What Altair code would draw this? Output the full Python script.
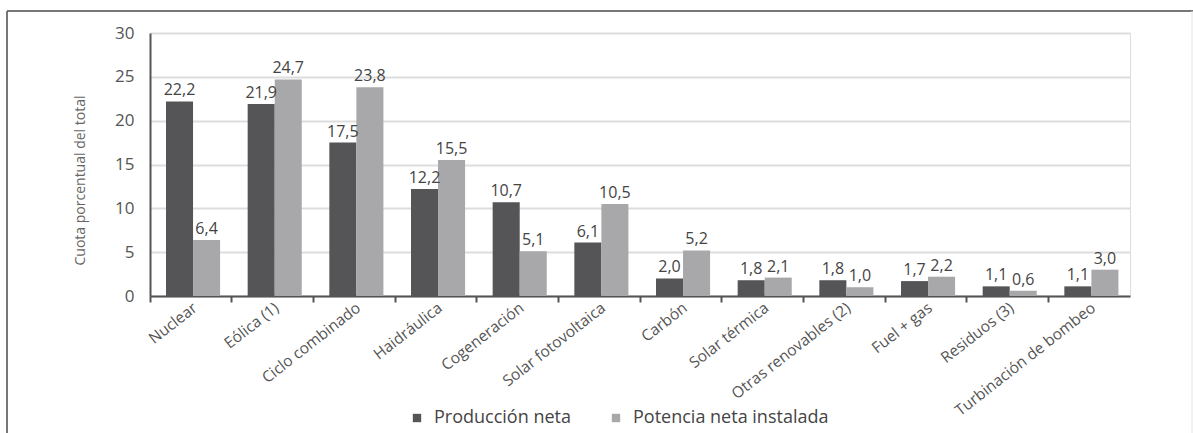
import altair as alt
import pandas as pd

categorias = ["Nuclear", "Eólica (1)", "Ciclo combinado", "Haidráulica", "Cogeneración",
              "Solar fotovoltaica", "Carbón", "Solar térmica", "Otras renovables (2)",
              "Fuel + gas", "Residuos (3)", "Turbinación de bombeo"]
produccion = [22.2, 21.9, 17.5, 12.2, 10.7, 6.1, 2.0, 1.8, 1.8, 1.7, 1.1, 1.1]
potencia = [6.4, 24.7, 23.8, 15.5, 5.1, 10.5, 5.2, 2.1, 1.0, 2.2, 0.6, 3.0]
series = ["Producción neta", "Potencia neta instalada"]
colores = ["#555557", "#a8a8aa"]

rows = []
for c, a, b in zip(categorias, produccion, potencia):
    for s, v in zip(series, [a, b]):
        rows.append({"cat": c, "serie": s, "valor": v,
                     "etiqueta": f"{v:.1f}".replace(".", ",")})
df = pd.DataFrame(rows)

FONT = "Open Sans"
W, H = 980, 263

x_enc = alt.X("cat:N", sort=categorias, title=None,
              scale=alt.Scale(paddingInner=0, paddingOuter=0),
              axis=alt.Axis(labelAngle=-38, labelAlign="right", labelBaseline="top",
                            labelFontSize=15.5, labelColor="#555", labelFont=FONT,
                            bandPosition=0, tickSize=6, tickColor="#555", tickWidth=2,
                            domainColor="#555", domainWidth=2, labelPadding=-2,
                            labelLimit=300, grid=False))
xoff = alt.XOffset("serie:N", sort=series,
                   scale=alt.Scale(paddingOuter=0.51, paddingInner=0, align=0.58))
y_enc = alt.Y("valor:Q", title="Cuota porcentual del total",
              scale=alt.Scale(domain=[0, 30]),
              axis=alt.Axis(values=[0, 5, 10, 15, 20, 25, 30], ticks=False,
                            labelPadding=16, labelFontSize=17, labelColor="#555",
                            labelFont=FONT, domainColor="#555", domainWidth=2,
                            gridColor="#dddddd", gridWidth=2,
                            titleFont=FONT, titleFontSize=14, titleFontWeight="normal",
                            titleColor="#666", titleX=-70, titleY=147,
                            titleAngle=-90, titleAlign="center", titleBaseline="middle"))

base = alt.Chart(df)

bars = base.mark_bar().encode(
    x=x_enc, xOffset=xoff, y=y_enc,
    color=alt.Color("serie:N", sort=series,
                    scale=alt.Scale(domain=series, range=colores),
                    legend=alt.Legend(title=None, orient="none", direction="horizontal",
                                      legendX=258, legendY=376, symbolType="square",
                                      symbolSize=70, symbolStrokeWidth=0,
                                      labelFont=FONT, labelFontSize=18, labelLimit=400,
                                      labelColor="#444", labelOffset=8,
                                      columnPadding=36)),
)

labels = base.mark_text(baseline="bottom", dy=-3, fontSize=16, font=FONT,
                        color="#444").encode(
    x=alt.X("cat:N", sort=categorias), xOffset=xoff,
    y=alt.Y("valor:Q"), text="etiqueta:N")

border_top = alt.Chart(pd.DataFrame({"a": [0]})).mark_rule(color="#777", strokeWidth=2).encode(
    x=alt.value(-143), x2=alt.value(1043), y=alt.value(-22))
border_left = alt.Chart(pd.DataFrame({"a": [0]})).mark_rule(color="#777", strokeWidth=2).encode(
    x=alt.value(-143), y=alt.value(-22), y2=alt.value(400))
border_right = alt.Chart(pd.DataFrame({"a": [0]})).mark_rule(color="#e4e4e4", strokeWidth=1).encode(
    x=alt.value(1042), y=alt.value(-22), y2=alt.value(400))

chart = alt.layer(bars, labels, border_top, border_left, border_right).properties(
    width=W, height=H,
    autosize=alt.AutoSizeParams(type="none"),
    padding={"left": 150, "top": 33, "right": 63, "bottom": 137},
).configure_view(stroke=None).configure(background="white")

chart.save("out.html", embed_options={"renderer": "svg", "actions": False})
